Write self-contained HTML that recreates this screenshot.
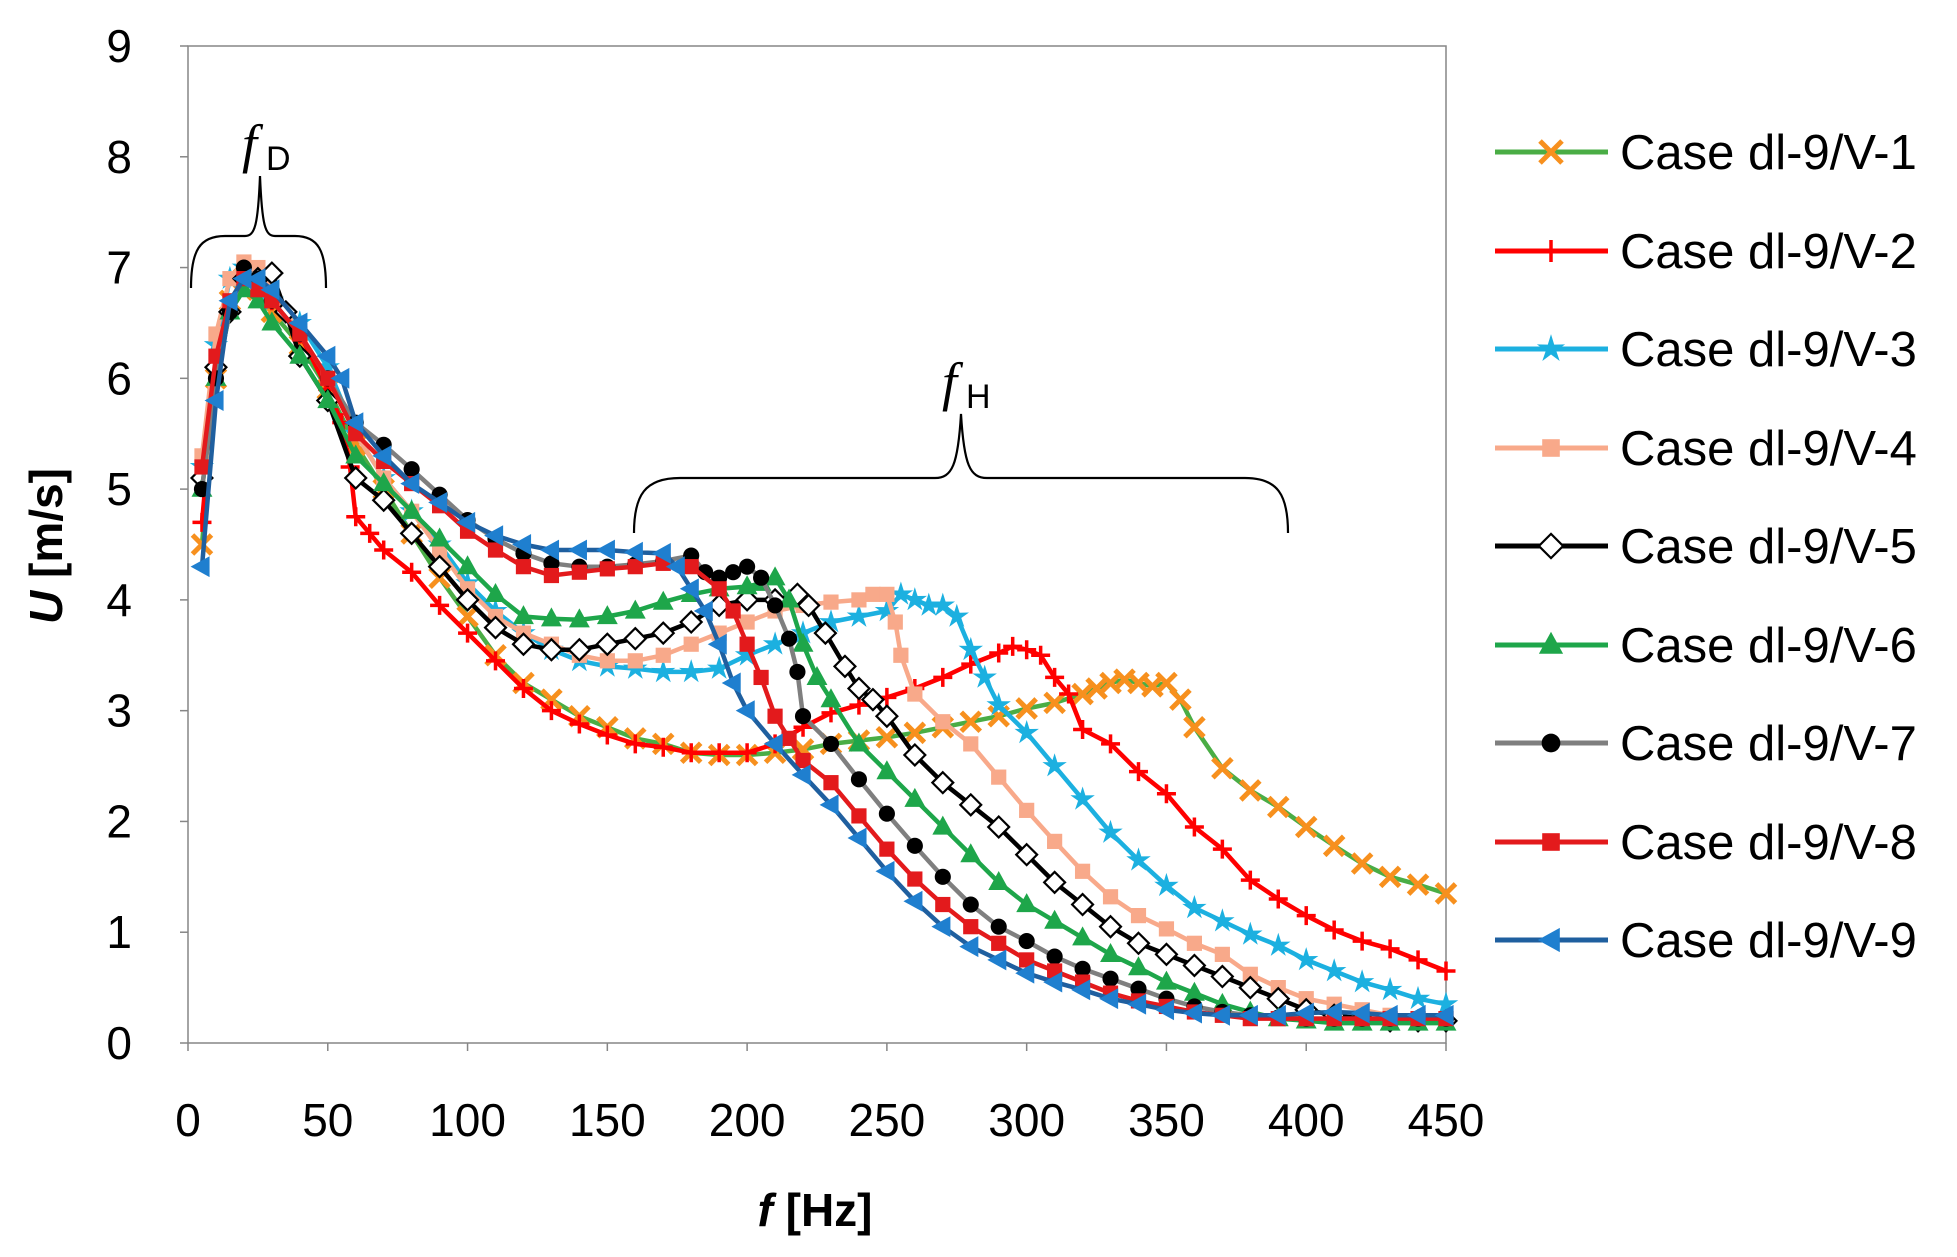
<!DOCTYPE html>
<html><head><meta charset="utf-8">
<style>
html,body{margin:0;padding:0;background:#fff;}
svg{display:block;font-family:"Liberation Sans",sans-serif;}
</style></head>
<body>
<svg id="chart" width="1957" height="1257" viewBox="0 0 1957 1257">
<rect width="1957" height="1257" fill="#fff"/>
<g id="axes"></g><g id="series"></g><g id="legend"></g>
<g fill="none" stroke="#000" stroke-width="2.2">
<path d="M191,288 C191,250 200,236 225,236 L245,236 C255,236 258,225 260,176 C262,225 265,236 275,236 L295,236 C318,236 326,250 326,288"/>
</g>
<text x="242" y="162" font-size="54" font-style="italic" font-family="Liberation Serif,serif">f</text>
<text x="266" y="170" font-size="34">D</text>
<g fill="none" stroke="#000" stroke-width="2.2">
<path d="M634,533 C634,495 645,478 680,478 L935,478 C952,478 958,465 961,414 C964,465 970,478 987,478 L1245,478 C1278,478 1288,495 1288,533"/>
</g>
<text x="942" y="400" font-size="54" font-style="italic" font-family="Liberation Serif,serif">f</text>
<text x="966" y="408" font-size="34">H</text>
<text transform="translate(62,546) rotate(-90)" text-anchor="middle" font-size="46" font-weight="bold"><tspan font-style="italic">U</tspan> [m/s]</text>
<text x="815" y="1226" text-anchor="middle" font-size="46" font-weight="bold"><tspan font-style="italic">f</tspan> [Hz]</text>
</svg>
<script>
const xTicks=[0,50,100,150,200,250,300,350,400,450];
const yTicks=[0,1,2,3,4,5,6,7,8,9];
const seriesNames=["Case dl-9/V-1","Case dl-9/V-2","Case dl-9/V-3","Case dl-9/V-4","Case dl-9/V-5","Case dl-9/V-6","Case dl-9/V-7","Case dl-9/V-8","Case dl-9/V-9"];
const f1=[5,10,15,20,25,30,40,50,60,70,80,90,100,110,120,130,140,150,160,170,180,190,200,210,220,230,240,250,260,270,280,290,300,310,320,325,330,335,340,345,350,355,360,370,380,390,400,410,420,430,440,450];
const u1=[4.5,6.0,6.7,6.9,6.8,6.6,6.3,5.9,5.4,5.0,4.6,4.2,3.85,3.5,3.25,3.1,2.95,2.85,2.75,2.7,2.62,2.6,2.6,2.62,2.65,2.7,2.73,2.76,2.8,2.85,2.9,2.95,3.02,3.07,3.15,3.2,3.25,3.28,3.25,3.22,3.25,3.1,2.85,2.48,2.28,2.13,1.95,1.78,1.62,1.5,1.43,1.35];
const f2=[5,10,15,20,30,40,50,55,58,60,65,70,80,90,100,110,120,130,140,150,160,170,180,190,200,210,220,230,240,250,260,270,280,290,295,300,305,310,315,320,330,340,350,360,370,380,390,400,410,420,430,440,450];
const u2=[4.7,6.1,6.6,6.9,6.7,6.4,5.9,5.6,5.2,4.75,4.6,4.45,4.25,3.95,3.7,3.45,3.2,3.0,2.88,2.78,2.7,2.67,2.62,2.62,2.62,2.7,2.85,2.98,3.05,3.12,3.2,3.3,3.42,3.52,3.58,3.55,3.5,3.3,3.15,2.83,2.7,2.45,2.25,1.95,1.75,1.47,1.3,1.15,1.02,0.92,0.85,0.75,0.65];
const f3=[5,10,15,20,25,30,40,50,60,70,80,90,100,110,120,130,140,150,160,170,180,190,200,210,220,230,240,250,255,260,265,270,275,280,285,290,300,310,320,330,340,350,360,370,380,390,400,410,420,430,440,450];
const u3=[5.2,6.3,6.9,7.0,6.9,6.7,6.5,6.1,5.5,5.1,4.8,4.5,4.15,3.9,3.7,3.55,3.45,3.4,3.38,3.35,3.35,3.38,3.5,3.6,3.7,3.8,3.85,3.9,4.05,4.0,3.95,3.95,3.85,3.55,3.3,3.05,2.8,2.5,2.2,1.9,1.65,1.42,1.22,1.1,0.98,0.88,0.75,0.65,0.55,0.48,0.4,0.35];
const f4=[5,10,15,20,25,30,40,50,60,70,80,90,100,110,120,130,140,150,160,170,180,190,200,210,220,230,240,245,250,253,255,260,270,280,290,300,310,320,330,340,350,360,370,380,390,400,410,420,430,440,450];
const u4=[5.3,6.4,6.9,7.05,7.0,6.8,6.4,6.0,5.5,5.1,4.8,4.45,4.1,3.85,3.7,3.6,3.5,3.45,3.45,3.5,3.6,3.7,3.8,3.9,3.95,3.98,4.0,4.05,4.05,3.8,3.5,3.15,2.9,2.7,2.4,2.1,1.82,1.55,1.32,1.15,1.03,0.9,0.8,0.62,0.5,0.4,0.35,0.3,0.25,0.22,0.22];
const f5=[5,10,15,20,25,30,35,40,50,60,70,80,90,100,110,120,130,140,150,160,170,180,190,200,210,218,222,228,235,240,245,250,260,270,280,290,300,310,320,330,340,350,360,370,380,390,400,410,420,430,440,450];
const u5=[5.1,6.1,6.6,6.9,6.9,6.95,6.6,6.2,5.8,5.1,4.9,4.6,4.3,4.0,3.75,3.6,3.55,3.55,3.6,3.65,3.7,3.8,3.95,4.0,4.0,4.05,3.95,3.7,3.4,3.2,3.1,2.95,2.6,2.35,2.15,1.95,1.7,1.45,1.25,1.05,0.9,0.8,0.7,0.6,0.5,0.4,0.3,0.25,0.22,0.2,0.2,0.2];
const f6=[5,10,15,20,25,30,40,50,60,70,80,90,100,110,120,130,140,150,160,170,180,190,200,205,210,215,220,225,230,240,250,260,270,280,290,300,310,320,330,340,350,360,370,380,390,400,410,420,430,440,450];
const u6=[5.0,6.0,6.6,6.8,6.7,6.5,6.2,5.8,5.3,5.05,4.8,4.55,4.3,4.05,3.85,3.83,3.82,3.85,3.9,3.98,4.05,4.1,4.12,4.15,4.2,4.0,3.6,3.3,3.1,2.7,2.45,2.2,1.95,1.7,1.45,1.25,1.1,0.95,0.8,0.68,0.55,0.45,0.35,0.28,0.22,0.2,0.18,0.18,0.18,0.18,0.18];
const f7=[5,10,15,20,25,30,40,50,60,70,80,90,100,110,120,130,140,150,160,170,180,185,190,195,200,205,210,215,218,220,230,240,250,260,270,280,290,300,310,320,330,340,350,360,370,380,390,400,410,420,430,440,450];
const u7=[5.0,6.0,6.6,7.0,6.9,6.7,6.4,6.0,5.6,5.4,5.18,4.95,4.72,4.55,4.42,4.33,4.3,4.3,4.32,4.35,4.4,4.25,4.2,4.25,4.3,4.2,3.95,3.65,3.35,2.95,2.7,2.38,2.07,1.78,1.5,1.25,1.05,0.92,0.78,0.67,0.58,0.49,0.4,0.33,0.28,0.25,0.23,0.22,0.22,0.22,0.22,0.22,0.22];
const f8=[5,10,15,20,25,30,40,50,60,70,80,90,100,110,120,130,140,150,160,170,180,190,195,200,205,210,215,220,230,240,250,260,270,280,290,300,310,320,330,340,350,360,370,380,390,400,410,420,430,440,450];
const u8=[5.2,6.2,6.7,6.9,6.8,6.7,6.4,6.0,5.5,5.25,5.05,4.85,4.62,4.45,4.3,4.22,4.25,4.28,4.3,4.33,4.3,4.1,3.9,3.6,3.3,2.95,2.75,2.55,2.35,2.05,1.75,1.48,1.25,1.05,0.9,0.75,0.65,0.55,0.45,0.38,0.33,0.28,0.25,0.22,0.22,0.22,0.22,0.22,0.22,0.22,0.22];
const f9=[5,10,15,20,25,30,40,50,55,60,70,80,90,100,110,120,130,140,150,160,170,175,180,185,190,195,200,210,220,230,240,250,260,270,280,290,300,310,320,330,340,350,360,370,380,390,400,410,420,430,440,450];
const u9=[4.3,5.8,6.7,6.9,6.9,6.8,6.5,6.2,6.0,5.6,5.3,5.05,4.88,4.7,4.58,4.5,4.45,4.45,4.45,4.43,4.42,4.3,4.1,3.9,3.6,3.25,3.0,2.7,2.42,2.15,1.85,1.55,1.28,1.05,0.87,0.75,0.63,0.55,0.48,0.4,0.35,0.3,0.27,0.25,0.25,0.25,0.27,0.28,0.27,0.25,0.25,0.25];

const X0=188,X1=1446,Y0=1043,Y1=46;
const xs=v=>X0+(v/450)*(X1-X0);
const ys=v=>Y0-(v/9)*(Y0-Y1);
const NS="http://www.w3.org/2000/svg";
function mk(tag,attrs,parent){const e=document.createElementNS(NS,tag);for(const k in attrs)e.setAttribute(k,attrs[k]);parent.appendChild(e);return e;}
const axes=document.getElementById('axes');
let fr=mk('rect',{x:X0,y:Y1,width:X1-X0,height:Y0-Y1,fill:'none',stroke:'#868686','stroke-width':1.5},axes);


xTicks.forEach(t=>{
 let l=mk('line',{x1:xs(t),x2:xs(t),y1:Y0,y2:Y0+8,stroke:'#868686','stroke-width':1.5},axes);
 
 
 let tx=mk('text',{x:xs(t),y:1136,'text-anchor':'middle','font-size':46},axes);tx.textContent=t;
 
 
});
yTicks.forEach(t=>{
 let l=mk('line',{x1:X0-8,x2:X0,y1:ys(t),y2:ys(t),stroke:'#868686','stroke-width':1.5},axes);
 
 
 let tx=mk('text',{x:132,y:ys(t)+16,'text-anchor':'end','font-size':46},axes);tx.textContent=t;
 
 
});
const fs=[f1,f2,f3,f4,f5,f6,f7,f8,f9];
const us=[u1,u2,u3,u4,u5,u6,u7,u8,u9];
const lineCol=['#4aad45','#ff0000','#1cb0e0','#f8a98a','#000000','#1ea64a','#7f7f7f','#e31a1c','#1f5f9f'];
const mCol=['#f7901e','#ff0000','#1cb0e0','#f8a98a','#000000','#1ea64a','#000000','#e31a1c','#1f7fcf'];
const mType=['x','plus','star','square','diamond','tri','circle','square','ltri'];
function marker(g,type,x,y,col,s){
 let e;
 if(type==='x'){e=mk('path',{d:`M${x-s},${y-s}L${x+s},${y+s}M${x-s},${y+s}L${x+s},${y-s}`,stroke:col,'stroke-width':5},g);}
 else if(type==='plus'){e=mk('path',{d:`M${x-s},${y}L${x+s},${y}M${x},${y-s}L${x},${y+s}`,stroke:col,'stroke-width':3.5},g);}
 else if(type==='star'){let p=[];for(let i=0;i<10;i++){const r=i%2?s*0.5:s*1.35,a=-Math.PI/2+i*Math.PI/5;p.push((x+r*Math.cos(a)).toFixed(1)+','+(y+r*Math.sin(a)).toFixed(1));}e=mk('polygon',{points:p.join(' '),fill:col},g);}
 else if(type==='square'){e=mk('rect',{x:x-s*0.8,y:y-s*0.8,width:s*1.6,height:s*1.6,fill:col},g);}
 else if(type==='diamond'){e=mk('polygon',{points:`${x},${y-s*1.1} ${x+s*1.1},${y} ${x},${y+s*1.1} ${x-s*1.1},${y}`,fill:'#fff',stroke:'#000','stroke-width':2.2},g);}
 else if(type==='tri'){e=mk('polygon',{points:`${x},${y-s*1.2} ${x+s*1.1},${y+s*0.8} ${x-s*1.1},${y+s*0.8}`,fill:col},g);}
 else if(type==='circle'){e=mk('circle',{cx:x,cy:y,r:s*0.85,fill:col},g);}
 else {e=mk('polygon',{points:`${x-s*1.2},${y} ${x+s*0.8},${y-s*1.1} ${x+s*0.8},${y+s*1.1}`,fill:col},g);}
 return e;
}
const sg=document.getElementById('series');
for(let i=0;i<9;i++){
 const g=mk('g',{},sg);
 
 
 const d=fs[i].map((f,j)=>(j?'L':'M')+xs(f).toFixed(1)+','+ys(us[i][j]).toFixed(1)).join('');
 const p=mk('path',{d:d,fill:'none',stroke:lineCol[i],'stroke-width':4.5,'stroke-linejoin':'round'},g);
 
 
 fs[i].forEach((f,j)=>{const m=marker(g,mType[i],xs(f),ys(us[i][j]),mCol[i],9.5);
  
  });
}
const lg=document.getElementById('legend');
const legY=[152,251,349,448,546,645,743,842,940];
for(let i=0;i<9;i++){
 const g=mk('g',{},lg);
 
 
 mk('line',{x1:1495,x2:1608,y1:legY[i],y2:legY[i],stroke:lineCol[i],'stroke-width':5},g);
 marker(g,mType[i],1551,legY[i],mCol[i],11);
 const t=mk('text',{x:1620,y:legY[i]+17,'font-size':49},g);t.textContent=seriesNames[i];
 
 
}
</script>
</body></html>
